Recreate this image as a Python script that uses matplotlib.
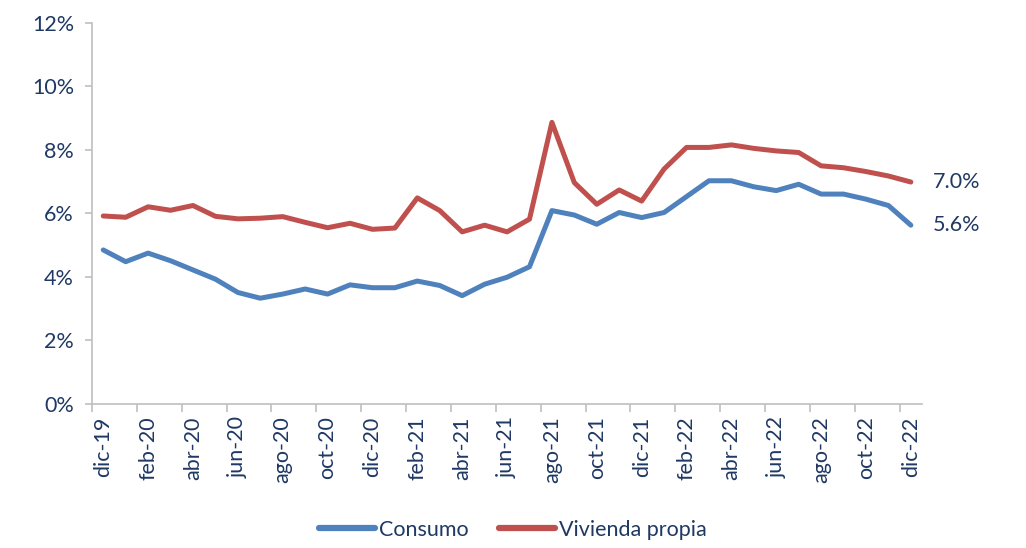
import numpy as np
import matplotlib.pyplot as plt

plt.rcParams['font.family'] = ['Lato', 'DejaVu Sans']

months = ["dic-19", "ene-20", "feb-20", "mar-20", "abr-20", "may-20", "jun-20", "jul-20",
          "ago-20", "sep-20", "oct-20", "nov-20", "dic-20", "ene-21", "feb-21", "mar-21",
          "abr-21", "may-21", "jun-21", "jul-21", "ago-21", "sep-21", "oct-21", "nov-21",
          "dic-21", "ene-22", "feb-22", "mar-22", "abr-22", "may-22", "jun-22", "jul-22",
          "ago-22", "sep-22", "oct-22", "nov-22", "dic-22"]

consumo = [4.85, 4.48, 4.75, 4.51, 4.22, 3.93, 3.51, 3.33, 3.46, 3.62, 3.46, 3.75,
           3.66, 3.66, 3.87, 3.73, 3.41, 3.77, 3.99, 4.32, 6.09, 5.95, 5.66, 6.03,
           5.87, 6.03, 6.53, 7.03, 7.03, 6.84, 6.72, 6.92, 6.61, 6.61, 6.45, 6.25, 5.63]

vivienda = [5.92, 5.88, 6.21, 6.10, 6.25, 5.91, 5.83, 5.85, 5.90, 5.72, 5.55, 5.69,
            5.50, 5.54, 6.49, 6.09, 5.42, 5.63, 5.42, 5.82, 8.87, 6.97, 6.29, 6.74,
            6.39, 7.40, 8.08, 8.08, 8.16, 8.05, 7.97, 7.92, 7.50, 7.44, 7.32, 7.18, 6.99]

blue = "#4F81BD"
red = "#C0504D"
navy = "#1F3864"
grey = "#BFBFBF"

x = np.arange(len(months))

fig = plt.figure(figsize=(10.26, 5.48), dpi=100)
ax = fig.add_axes([0.0897, 0.263, 0.809, 0.695])

ax.plot(x, consumo, color=blue, lw=3.6, solid_capstyle="round", solid_joinstyle="round", label="Consumo")
ax.plot(x, vivienda, color=red, lw=3.6, solid_capstyle="round", solid_joinstyle="round", label="Vivienda propia")

ax.set_xlim(-0.5, len(months) - 0.5)
ax.set_ylim(0, 12)

# y axis
ax.set_yticks(np.arange(0, 13, 2))
ax.set_yticklabels([f"{v}%" for v in range(0, 13, 2)])
ax.tick_params(axis="y", colors=grey, length=5, width=1.2, labelcolor=navy, labelsize=15.5, pad=8)

# x axis: tick marks on boundaries, labels every two months
ax.set_xticks(np.arange(-0.5, len(months) - 1, 2))
ax.set_xticklabels([])
ax.set_xticks(x[::2], minor=True)
ax.set_xticklabels(months[::2], minor=True, rotation=90)
ax.tick_params(axis="x", which="major", colors=grey, length=6, width=1.2)
ax.tick_params(axis="x", which="minor", length=0, labelcolor=navy, labelsize=15.5, pad=9)

for s in ["top", "right"]:
    ax.spines[s].set_visible(False)
for s in ["left", "bottom"]:
    ax.spines[s].set_color(grey)
    ax.spines[s].set_linewidth(1.2)

ax.annotate(f"{vivienda[-1]:.1f}%", xy=(x[-1], vivienda[-1]), xytext=(16, 0),
            textcoords="offset points", va="center", ha="left", color=navy, fontsize=15.5, annotation_clip=False)
ax.annotate(f"{consumo[-1]:.1f}%", xy=(x[-1], consumo[-1]), xytext=(16, 0),
            textcoords="offset points", va="center", ha="left", color=navy, fontsize=15.5, annotation_clip=False)

leg = fig.legend(loc="lower center", bbox_to_anchor=(0.5, -0.02), ncol=2, frameon=False,
                 fontsize=15.5, handlelength=2.6, columnspacing=1.4, handletextpad=0.2)
for line in leg.get_lines():
    line.set_linewidth(4.5)
for t in leg.get_texts():
    t.set_color(navy)

fig.savefig("out.png", dpi=100)
